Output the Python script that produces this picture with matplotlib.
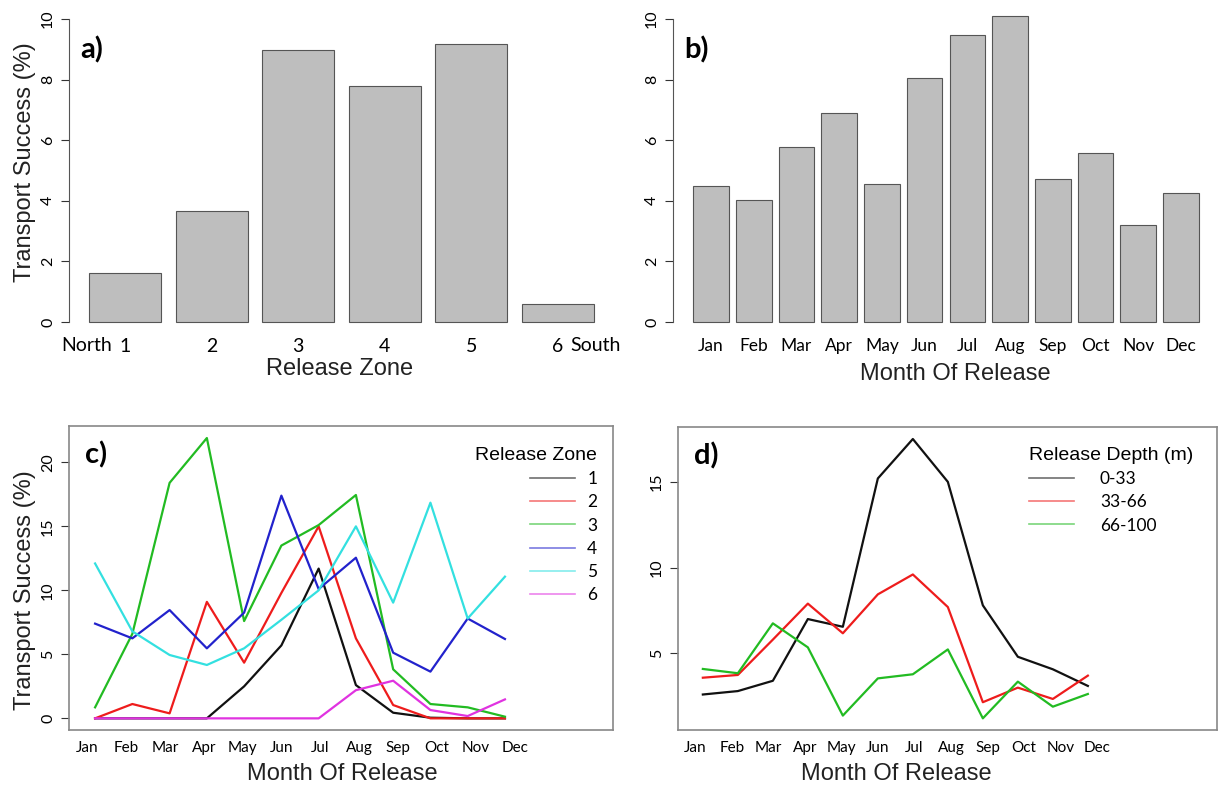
import numpy as np
import matplotlib.pyplot as plt
from matplotlib.lines import Line2D

# ---------------------------------------------------------------------------
# Values
# ---------------------------------------------------------------------------
zones = ['1', '2', '3', '4', '5', '6']
zone_success = [1.62, 3.67, 8.98, 7.80, 9.17, 0.60]

months = ['Jan', 'Feb', 'Mar', 'Apr', 'May', 'Jun',
          'Jul', 'Aug', 'Sep', 'Oct', 'Nov', 'Dec']
month_success = [4.49, 4.02, 5.77, 6.90, 4.57, 8.06,
                 9.48, 10.11, 4.71, 5.57, 3.20, 4.26]

# panel c: success by month for each release zone
zone1 = [0, 0, 0, 0, 2.5, 5.7, 11.7, 2.6, 0.44, 0.05, 0, 0]
zone2 = [0, 1.12, 0.39, 9.1, 4.35, 9.8, 15.0, 6.25, 1.04, 0, 0, 0]
zone3 = [0.86, 6.6, 18.4, 21.9, 7.6, 13.5, 15.1, 17.45, 3.83, 1.12, 0.86, 0.13]
zone4 = [7.4, 6.25, 8.46, 5.47, 8.26, 17.4, 10.1, 12.55, 5.13, 3.65, 7.8, 6.2]
zone5 = [12.1, 6.8, 4.95, 4.17, 5.47, 7.7, 10.0, 15.0, 9.04, 16.85, 7.8, 11.07]
zone6 = [0, 0, 0, 0, 0, 0, 0, 2.2, 2.94, 0.65, 0.18, 1.48]
zone_colors = ['#111111', '#ee1c1c', '#22bb22', '#2222cc', '#33e0e0', '#e033e0']

# panel d: success by month for each release depth
depths = ['0-33', '33-66', '66-100']
depth_0_33 = [2.6, 2.8, 3.4, 7.0, 6.55, 15.2, 17.5, 15.0, 7.8, 4.8, 4.07, 3.1]
depth_33_66 = [3.58, 3.74, 5.8, 7.9, 6.17, 8.44, 9.6, 7.7, 2.15, 3.0, 2.34, 3.7]
depth_66_100 = [4.09, 3.84, 6.75, 5.35, 1.37, 3.54, 3.78, 5.23, 1.21, 3.35, 1.89, 2.63]
depth_colors = ['#111111', '#ee1c1c', '#22bb22']

# ---------------------------------------------------------------------------
W, H = 1219, 786
TICK_FONT = 'Lato'
LABEL_FONT = 'Liberation Sans'

fig = plt.figure(figsize=(W / 100, H / 100), dpi=100)


def px_axes(left, top, right, bottom):
    """Add an axes from pixel edges (origin top-left)."""
    return fig.add_axes([left / W, 1 - bottom / H,
                         (right - left) / W, (bottom - top) / H])


def fig_text(x, y, s, **kw):
    fig.text(x / W, 1 - y / H, s, **kw)


def style_yticks(ax, ticks):
    ax.set_yticks(ticks)
    ax.tick_params(axis='y', length=6, width=0.8, colors='#333333',
                   labelsize=11.5, pad=4)
    for lbl in ax.get_yticklabels():
        lbl.set_rotation(90)
        lbl.set_va('center')
        lbl.set_fontfamily(TICK_FONT)
        lbl.set_color('black')


def bar_panel(ax, labels, values, xlim, letter, fs):
    x = 0.7 + 1.2 * np.arange(len(values))
    ax.bar(x, values, width=1.0, color='#bebebe', edgecolor='#555555',
           linewidth=0.8)
    ax.set_xlim(*xlim)
    ax.set_ylim(-0.4, 10.4)
    for s in ['top', 'right', 'bottom']:
        ax.spines[s].set_visible(False)
    ax.spines['left'].set_bounds(0, 10)
    ax.spines['left'].set_color('#555555')
    style_yticks(ax, [0, 2, 4, 6, 8, 10])
    ax.set_xticks(x, labels, fontfamily=TICK_FONT, fontsize=fs)
    ax.tick_params(axis='x', length=0, pad=3)
    ax.text(0.02, 0.868, letter, transform=ax.transAxes, fontsize=21,
            fontweight='bold', fontfamily=TICK_FONT, va='center')
    return x


def line_panel(ax, series, colors, xlim, ylim, yticks, letter):
    m = np.arange(1, len(months) + 1)
    for vals, c in zip(series, colors):
        ax.plot(m, vals, color=c, lw=1.6)
    ax.set_xlim(*xlim)
    ax.set_ylim(*ylim)
    for s in ax.spines.values():
        s.set_color('#888888')
        s.set_linewidth(1.2)
    style_yticks(ax, yticks)
    # month names were set a little wider apart than the points
    ax.set_xticks(np.linspace(0.79, 12.26, len(months)), months,
                  fontfamily=TICK_FONT, fontsize=11)
    ax.tick_params(axis='x', length=0, pad=8)
    ax.text(0.03, 0.905, letter, transform=ax.transAxes, fontsize=21,
            fontweight='bold', fontfamily=TICK_FONT, va='center')


# a) release zone
ax_a = px_axes(69, 7, 614, 334)
xa = bar_panel(ax_a, zones, zone_success, (-0.08, 7.48), 'a)', 14)
ax_a.annotate('North', xy=(xa[0], 0), xycoords=('data', 'axes fraction'),
              xytext=(-13, -3), textcoords='offset pixels', ha='right',
              va='top', fontfamily=TICK_FONT, fontsize=14)
ax_a.annotate('South', xy=(xa[-1], 0), xycoords=('data', 'axes fraction'),
              xytext=(13, -3), textcoords='offset pixels', ha='left',
              va='top', fontfamily=TICK_FONT, fontsize=14)

# b) month of release
ax_b = px_axes(673, 7, 1219, 334)
bar_panel(ax_b, months, month_success, (-0.368, 14.968), 'b)', 12.5)

# c) by zone
ax_c = px_axes(69, 426, 613, 730)
line_panel(ax_c, [zone1, zone2, zone3, zone4, zone5, zone6], zone_colors,
           (0.30, 14.9), (-0.91, 22.84), [0, 5, 10, 15, 20], 'c)')
handles_c = [Line2D([], [], color=c, lw=1.2, alpha=0.6) for c in zone_colors]
ax_c.legend(handles_c, zones, title='Release Zone', frameon=False,
            loc='upper right', bbox_to_anchor=(606 / W, 1 - 438 / H),
            bbox_transform=fig.transFigure, borderpad=0,
            handlelength=2.6, handletextpad=0.7, labelspacing=0.42,
            alignment='right',
            prop={'family': TICK_FONT, 'size': 12.5},
            title_fontproperties={'family': LABEL_FONT, 'size': 14})

# d) by depth
ax_d = px_axes(678, 427, 1217, 730)
line_panel(ax_d, [depth_0_33, depth_33_66, depth_66_100], depth_colors,
           (0.29, 15.69), (0.53, 18.2), [5, 10, 15], 'd)')
handles_d = [Line2D([], [], color=c, lw=1.2, alpha=0.6) for c in depth_colors]
ax_d.legend(handles_d, depths, title='Release Depth (m)', frameon=False,
            loc='upper left', bbox_to_anchor=(1020 / W, 1 - 438 / H),
            bbox_transform=fig.transFigure, borderpad=0,
            handlelength=2.6, handletextpad=1.5, labelspacing=0.42,
            alignment='left',
            prop={'family': TICK_FONT, 'size': 12.5},
            title_fontproperties={'family': LABEL_FONT, 'size': 14})

# axis titles
lab = dict(fontfamily=LABEL_FONT, fontsize=17, ha='center', va='center',
           color='#222222')
fig_text(25, 162, 'Transport Success (%)', rotation=90, **lab)
fig_text(25, 590, 'Transport Success (%)', rotation=90, **lab)
fig_text(340, 369, 'Release Zone', **lab)
fig_text(955, 374, 'Month Of Release', **lab)
fig_text(342, 774, 'Month Of Release', **lab)
fig_text(896, 774, 'Month Of Release', **lab)

fig.savefig('out.png', dpi=100)
